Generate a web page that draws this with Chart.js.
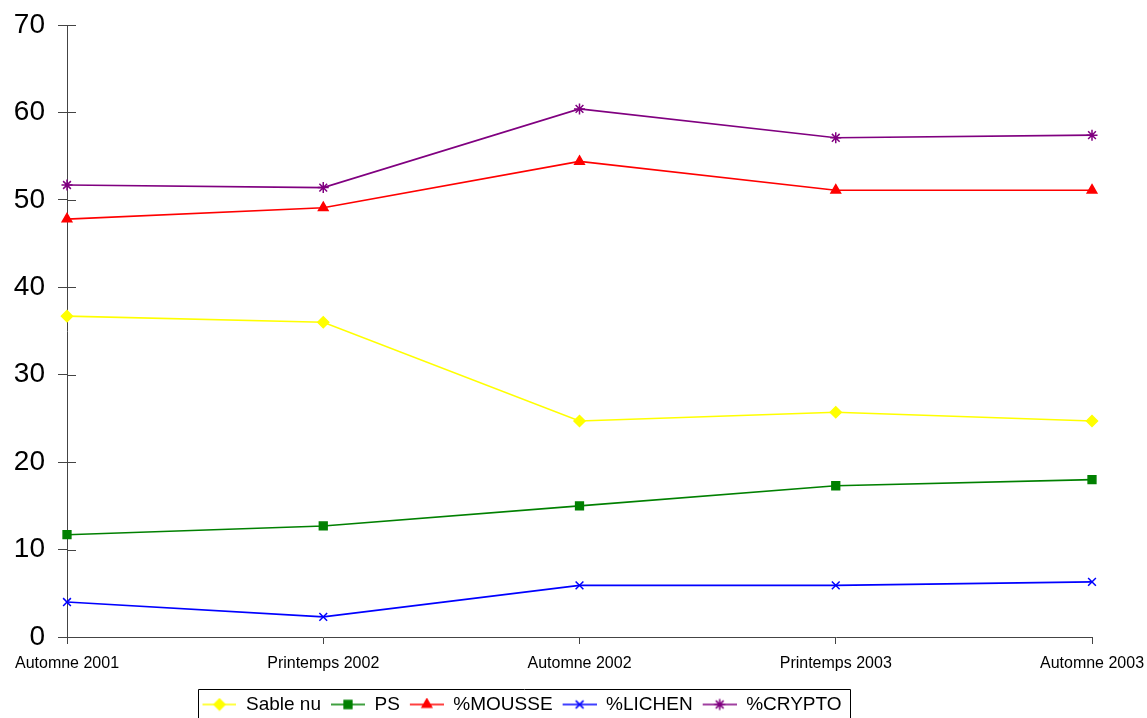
<!DOCTYPE html>
<html>
<head>
<meta charset="utf-8">
<script src="https://cdn.jsdelivr.net/npm/chart.js@4/dist/chart.umd.min.js"></script>
<style>
  html, body { margin: 0; padding: 0; background: #fff; }
  #wrap { width: 1147px; height: 718px; }
</style>
</head>
<body>
<div id="wrap"><canvas id="chart" width="1147" height="718"></canvas></div>
<script>
const categories = ['Automne 2001', 'Printemps 2002', 'Automne 2002', 'Printemps 2003', 'Automne 2003'];
const sableNu = [36.7, 36.0, 24.7, 25.7, 24.7];
const ps = [11.7, 12.7, 15.0, 17.3, 18.0];
const mousse = [47.8, 49.1, 54.4, 51.1, 51.1];
const lichen = [4.0, 2.3, 5.9, 5.9, 6.3];
const crypto = [51.7, 51.4, 60.4, 57.1, 57.4];
const yTicks = [0, 10, 20, 30, 40, 50, 60, 70];

// legend swatch: a short line with the marker in the middle (6px blank on the left = gap to previous item)
function swatch(color, style) {
    const c = document.createElement('canvas');
    c.width = 40; c.height = 14;
    const ctx = c.getContext('2d');
    ctx.strokeStyle = color; ctx.fillStyle = color; ctx.lineWidth = 1.5;
    ctx.beginPath(); ctx.moveTo(6, 7); ctx.lineTo(40, 7); ctx.stroke();
    Chart.helpers.drawPoint(ctx, { pointStyle: style, radius: 5.5, borderWidth: 1.5, rotation: 0 }, 23, 7);
    return c;
}

function makeSet(label, data, color, style) {
    return {
        label: label, data: data, borderColor: color, backgroundColor: color,
        borderWidth: 1.6, tension: 0, fill: false,
        pointStyle: style, pointRadius: 5.5, pointBorderWidth: 1.5,
        pointBackgroundColor: color, pointBorderColor: color,
        legendSwatch: swatch(color, style)
    };
}

const LEGEND_SHIFT_X = -27;
const LEGEND_SHIFT_Y = 6;

const innerTicks = {
    id: 'innerTicks',
    afterLayout(chart) {
        // the legend sits a bit left of the plot centre in the original
        const lg = chart.legend;
        lg.left += LEGEND_SHIFT_X; lg.right += LEGEND_SHIFT_X;
        lg.top += LEGEND_SHIFT_Y; lg.bottom += LEGEND_SHIFT_Y;
        lg.legendHitBoxes.forEach(h => { h.left += LEGEND_SHIFT_X; h.top += LEGEND_SHIFT_Y; });
    },
    afterDraw(chart) {
        const ctx = chart.ctx;
        const x = chart.scales.x, y = chart.scales.y;
        ctx.save();
        ctx.strokeStyle = '#444';
        ctx.lineWidth = 1;
        yTicks.forEach(v => {
            const py = Math.round(y.getPixelForValue(v)) + 0.5;
            ctx.beginPath(); ctx.moveTo(x.left, py); ctx.lineTo(x.left + 9, py); ctx.stroke();
        });
        // legend frame around the items
        const hb = chart.legend.legendHitBoxes;
        const l = Math.round(hb[0].left) + 2;
        const r = Math.round(hb[hb.length - 1].left + hb[hb.length - 1].width) + 8;
        const t = Math.round(chart.legend.top) - 2 + 0.5;
        ctx.strokeStyle = '#000';
        ctx.beginPath();
        ctx.moveTo(l + 0.5, 720); ctx.lineTo(l + 0.5, t); ctx.lineTo(r + 0.5, t); ctx.lineTo(r + 0.5, 720);
        ctx.stroke();
        ctx.restore();
    }
};

new Chart(document.getElementById('chart'), {
    type: 'line',
    data: {
        labels: categories,
        datasets: [
            makeSet('Sable nu', sableNu, '#FFFF00', 'rectRot'),
            makeSet('PS', ps, '#008000', 'rect'),
            makeSet('%MOUSSE', mousse, '#FF0000', 'triangle'),
            makeSet('%LICHEN', lichen, '#0000FF', 'crossRot'),
            makeSet('%CRYPTO', crypto, '#800080', 'star')
        ]
    },
    options: {
        responsive: false,
        animation: false,
        layout: { padding: { top: 25, right: 55, left: 0, bottom: 0 } },
        plugins: {
            tooltip: { enabled: false },
            legend: {
                position: 'bottom',
                labels: {
                    font: { family: 'Liberation Sans', size: 19 },
                    color: '#000',
                    usePointStyle: true,
                    boxWidth: 40,
                    pointStyleWidth: 40,
                    padding: 4,
                    generateLabels(chart) {
                        return chart.data.datasets.map((ds, i) => ({
                            text: ds.label, datasetIndex: i, pointStyle: ds.legendSwatch,
                            fillStyle: ds.borderColor, strokeStyle: ds.borderColor, lineWidth: 0, hidden: false
                        }));
                    }
                }
            }
        },
        scales: {
            x: {
                offset: false,
                border: { color: '#444', width: 1 },
                grid: { display: true, drawOnChartArea: false, tickLength: 7, color: '#444' },
                ticks: { font: { family: 'Liberation Sans', size: 16 }, color: '#000', maxRotation: 0, padding: 10 },
                afterFit(s) { s.height = 48; s.paddingLeft = 0; s.paddingRight = 0; }
            },
            y: {
                min: 0, max: 70,
                border: { color: '#444', width: 1 },
                grid: { display: true, drawOnChartArea: false, tickLength: 9, color: '#444' },
                ticks: { stepSize: 10, font: { family: 'Liberation Sans', size: 28 }, color: '#000', padding: 13 },
                afterFit(s) { s.width = 67; s.paddingTop = 0; s.paddingBottom = 0; }
            }
        }
    },
    plugins: [innerTicks]
});
</script>
</body>
</html>
